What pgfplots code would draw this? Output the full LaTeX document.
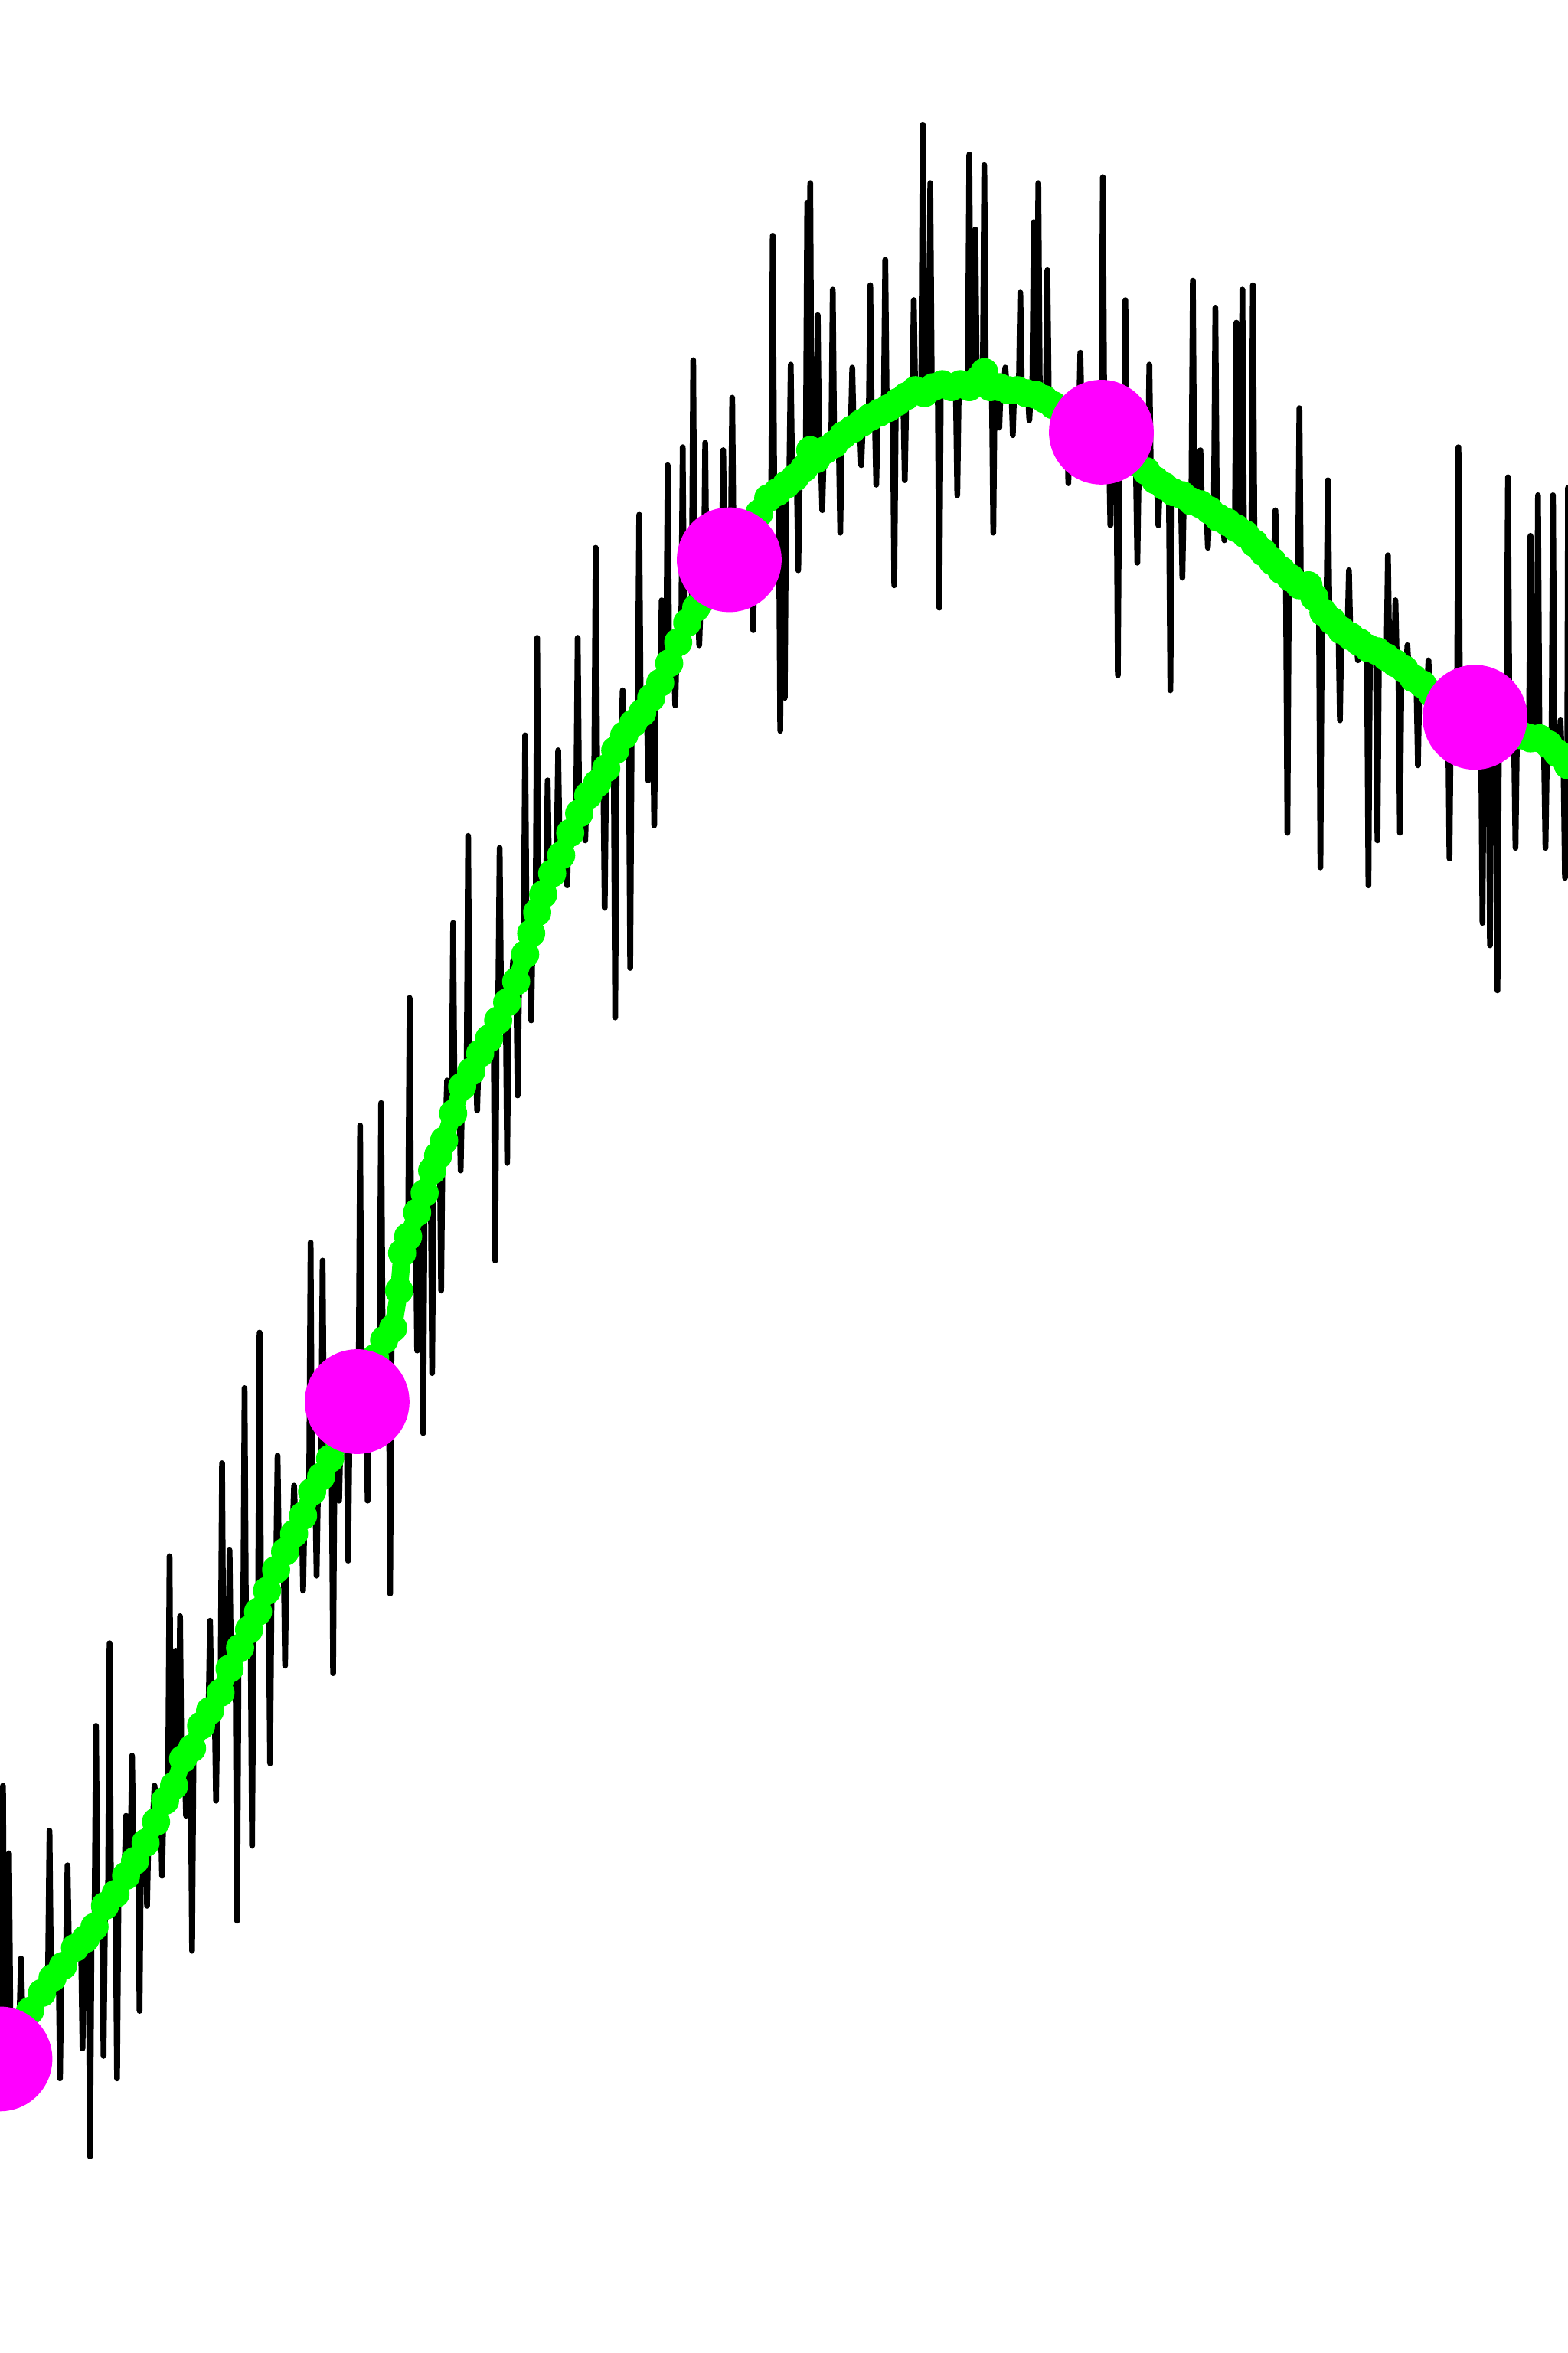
\documentclass[border=0pt]{standalone}
\usepackage{pgfplots}
\pgfplotsset{compat=1.18}
\definecolor{lgreen}{RGB}{0,255,0}
\definecolor{mag}{RGB}{255,0,255}
\begin{document}
\begin{tikzpicture}
\begin{axis}[
  scale only axis, width=10cm, height=15.005cm,
  xmin=0, xmax=1045, ymin=0, ymax=1568, y dir=reverse,
  axis line style={draw=none}, ticks=none, clip=true, clip marker paths=true,
]
% black noisy series
\addplot[black, line width=1.05pt, line join=round, line cap=round, mark=none] coordinates {
(1,1362)(2,1190)(3,1362)(5,1356)(6,1235)(7,1356)(9,1350)(10,1390)(11,1350)
(13,1344)(14,1305)(15,1344)(32,1316)(33,1220)(34,1316)(39,1305)(40,1385)(41,1305)
(44,1300)(45,1243)(46,1300)(54,1294)(55,1365)(56,1294)(59,1290)(60,1437)(61,1290)
(63,1283)(64,1150)(65,1283)(68,1275)(69,1370)(70,1275)(72,1268)(73,1095)(74,1268)
(77,1259)(78,1385)(79,1259)(83,1247)(84,1210)(85,1247)(87,1239)(88,1170)(89,1239)
(92,1229)(93,1340)(94,1229)(97,1219)(98,1270)(99,1219)(102,1210)(103,1190)(104,1210)
(107,1202)(108,1250)(109,1202)(112,1193)(113,1037)(114,1193)(116,1185)(117,1100)(118,1185)
(119,1180)(120,1077)(121,1180)(123,1172)(124,1210)(125,1172)(127,1164)(128,1300)(129,1164)
(133,1152)(134,1140)(135,1152)(139,1140)(140,1080)(141,1140)(143,1132)(144,1200)(145,1132)
(147,1124)(148,975)(149,1124)(152,1114)(153,1033)(154,1114)(157,1104)(158,1280)(159,1104)
(162,1094)(163,925)(164,1094)(167,1084)(168,1230)(169,1084)(172,1074)(173,888)(174,1074)
(179,1058)(180,1175)(181,1058)(184,1046)(185,970)(186,1046)(189,1034)(190,1110)(191,1034)
(195,1020)(196,990)(197,1020)(201,1006)(202,1060)(203,1006)(206,995)(207,828)(208,995)
(210,988)(211,1050)(212,988)(214,979)(215,840)(216,979)(221,966)(222,1115)(223,966)
(225,958)(226,1000)(227,958)(231,946)(232,1040)(233,946)(239,929)(240,750)(241,929)
(244,917)(245,1000)(246,917)(253,895)(254,735)(255,895)(259,880)(260,1062)(261,880)
(264,855)(265,860)(266,855)(272,821)(273,665)(274,821)(277,806)(278,900)(279,806)
(281,794)(282,955)(283,794)(285,782)(286,790)(287,782)(287,776)(288,915)(289,776)
(293,760)(294,860)(295,760)(297,750)(298,720)(299,750)(301,741)(302,615)(303,741)
(306,730)(307,780)(308,730)(311,718)(312,557)(313,718)(317,704)(318,740)(319,704)
(329,680)(330,840)(331,680)(332,674)(333,565)(334,674)(337,664)(338,775)(339,664)
(341,656)(342,640)(343,656)(344,650)(345,730)(346,650)(349,633)(350,490)(351,633)
(353,620)(354,680)(355,620)(357,607)(358,425)(359,607)(364,586)(365,520)(366,586)
(371,567)(372,500)(373,567)(377,551)(378,590)(379,551)(384,537)(385,425)(386,537)
(389,530)(390,560)(391,530)(396,519)(397,365)(398,519)(402,510)(403,605)(404,510)
(409,500)(410,678)(411,500)(414,492)(415,460)(416,492)(419,485)(420,645)(421,485)
(425,476)(426,343)(427,476)(431,467)(432,520)(433,467)(435,461)(436,550)(437,461)
(440,453)(441,400)(442,453)(444,444)(445,310)(446,444)(449,433)(450,470)(451,433)
(454,421)(455,298)(456,421)(461,407)(462,240)(463,407)(465,401)(466,430)(467,401)
(469,395)(470,295)(471,395)(475,387)(476,400)(477,387)(481,379)(482,300)(483,379)
(487,370)(488,265)(489,370)(495,357)(496,345)(497,357)(501,347)(502,420)(503,347)
(514,329)(515,157)(516,329)(519,326)(520,487)(521,326)(522,324)(523,465)(524,324)
(526,321)(527,243)(528,321)(531,316)(532,380)(533,316)(537,312)(538,135)(539,312)
(539,310)(540,122)(541,310)(544,305)(545,210)(546,305)(547,303)(548,340)(549,303)
(554,297)(555,193)(556,297)(559,293)(560,355)(561,293)(567,287)(568,245)(569,287)
(573,283)(574,310)(575,283)(579,279)(580,190)(581,279)(583,277)(584,323)(585,277)
(589,273)(590,173)(591,273)(595,270)(596,390)(597,270)(602,266)(603,320)(604,266)
(608,264)(609,200)(610,264)(614,262)(615,83)(616,262)(619,260)(620,122)(621,260)
(625,259)(626,405)(627,259)(637,257)(638,330)(639,257)(645,256)(646,103)(647,256)
(649,255)(650,153)(651,255)(655,254)(656,110)(657,254)(661,255)(662,355)(663,255)
(665,256)(666,285)(667,256)(669,257)(670,245)(671,257)(674,258)(675,290)(676,258)
(679,259)(680,195)(681,259)(685,261)(686,280)(687,261)(688,261)(689,148)(690,261)
(691,263)(692,122)(693,263)(697,266)(698,180)(699,266)(703,269)(704,300)(705,269)
(711,274)(712,322)(713,274)(719,280)(720,235)(721,280)(726,284)(727,305)(728,284)
(734,289)(735,118)(736,289)(739,293)(740,350)(741,293)(744,298)(745,450)(746,298)
(749,302)(750,200)(751,302)(757,309)(758,375)(759,309)(765,316)(766,243)(767,316)
(771,321)(772,350)(773,321)(779,325)(780,460)(781,325)(787,330)(788,385)(789,330)
(794,333)(795,187)(796,333)(799,335)(800,300)(801,335)(804,338)(805,365)(806,338)
(809,342)(810,205)(811,342)(815,346)(816,360)(817,346)(823,351)(824,215)(825,351)
(827,354)(828,193)(829,354)(834,360)(835,190)(836,360)(842,368)(843,378)(844,368)
(849,375)(850,340)(851,375)(857,383)(858,555)(859,383)(865,391)(866,272)(867,391)
(872,398)(873,400)(874,398)(879,405)(880,578)(881,405)(884,410)(885,320)(886,410)
(892,418)(893,480)(894,418)(898,424)(899,380)(900,424)(904,428)(905,440)(906,428)
(911,433)(912,590)(913,433)(917,437)(918,560)(919,437)(924,442)(925,370)(926,442)
(929,445)(930,400)(931,445)(932,447)(933,555)(934,447)(937,450)(938,430)(939,450)
(944,455)(945,510)(946,455)(951,461)(952,440)(953,461)(957,464)(958,490)(959,464)
(965,469)(966,572)(967,469)(971,472)(972,298)(973,472)(977,475)(978,500)(979,475)
(982,478)(983,460)(984,478)(987,480)(988,615)(989,480)(992,482)(993,630)(994,482)
(997,484)(998,660)(999,484)(1004,487)(1005,318)(1006,487)(1009,489)(1010,565)(1011,489)
(1014,490)(1015,470)(1016,490)(1019,492)(1020,357)(1021,492)(1024,496)(1025,330)(1026,496)
(1029,500)(1030,565)(1031,500)(1034,504)(1035,330)(1036,504)(1039,507)(1040,480)(1041,507)
(1042,509)(1043,585)(1044,509)(1044.5,510)(1045,325)(1046,510)
};
% green smoothed series
\addplot[lgreen, line width=3.2pt, line join=round, mark=*, mark size=2.3pt, mark options={fill=lgreen, draw=lgreen, line width=0.5pt}] coordinates {
(12,1352)(20,1340)(28,1328)(35,1318)(42,1310)(50,1298)(57,1292)(63,1284)(70,1270)(77,1262)
(84,1250)(90,1240)(97,1228)(104,1214)(110,1200)(116,1190)(122,1172)(128,1165)(134,1150)(140,1140)
(147,1128)(153,1112)(160,1098)(166,1086)(172,1074)(178,1060)(184,1046)(190,1034)(196,1022)(202,1010)
(208,994)(214,984)(220,972)(226,960)(232,946)(238,934)(244,920)(250,905)(256,893)(262,885)
(266,860)(268,835)(272,824)(278,808)(283,795)(288,780)(292,770)(296,760)(302,742)(308,724)
(314,714)(320,702)(326,692)(332,680)(338,668)(344,654)(350,636)(354,622)(358,608)(362,596)
(368,582)(374,570)(380,555)(386,542)(392,530)(398,522)(404,512)(410,500)(416,490)(422,482)
(428,475)(434,465)(440,455)(446,442)(452,428)(458,415)(464,405)(470,398)(476,388)(482,379)
(488,370)(494,360)(500,350)(506,342)(512,332)(518,328)(524,323)(530,318)(536,312)(540,300)
(544,306)(550,300)(556,296)(562,290)(568,286)(574,282)(580,278)(586,275)(592,272)(598,268)
(604,264)(610,260)(616,262)(622,258)(628,256)(634,258)(640,256)(646,258)(652,253)(656,248)
(660,258)(666,258)(672,260)(678,260)(684,262)(690,263)(696,266)(702,270)(708,274)(716,280)
(722,284)(728,288)(740,294)(748,300)(756,308)(764,314)(770,320)(776,324)(782,328)(788,330)
(794,334)(800,336)(806,340)(812,345)(818,348)(824,352)(830,356)(836,362)(842,368)(848,374)
(854,380)(860,385)(866,390)(872,390)(876,398)(882,408)(888,414)(894,420)(900,424)(906,428)
(912,432)(918,434)(924,438)(930,442)(936,446)(942,452)(948,456)(954,462)(960,466)(966,470)
(972,474)(978,476)(984,478)(990,482)(996,484)(1002,486)(1008,488)(1014,490)(1020,492)(1026,492)
(1032,496)(1038,502)(1045,510)
};
% magenta markers
\addplot[only marks, mark=*, mark size=9.3pt, mag, mark options={fill=mag, draw=mag}] coordinates {
(0,1372)(238,934)(486,373)(734,288)(983,478)
};
\end{axis}
\pgfresetboundingbox
\path (current axis.south west) rectangle (current axis.north east);
\end{tikzpicture}
\end{document}
